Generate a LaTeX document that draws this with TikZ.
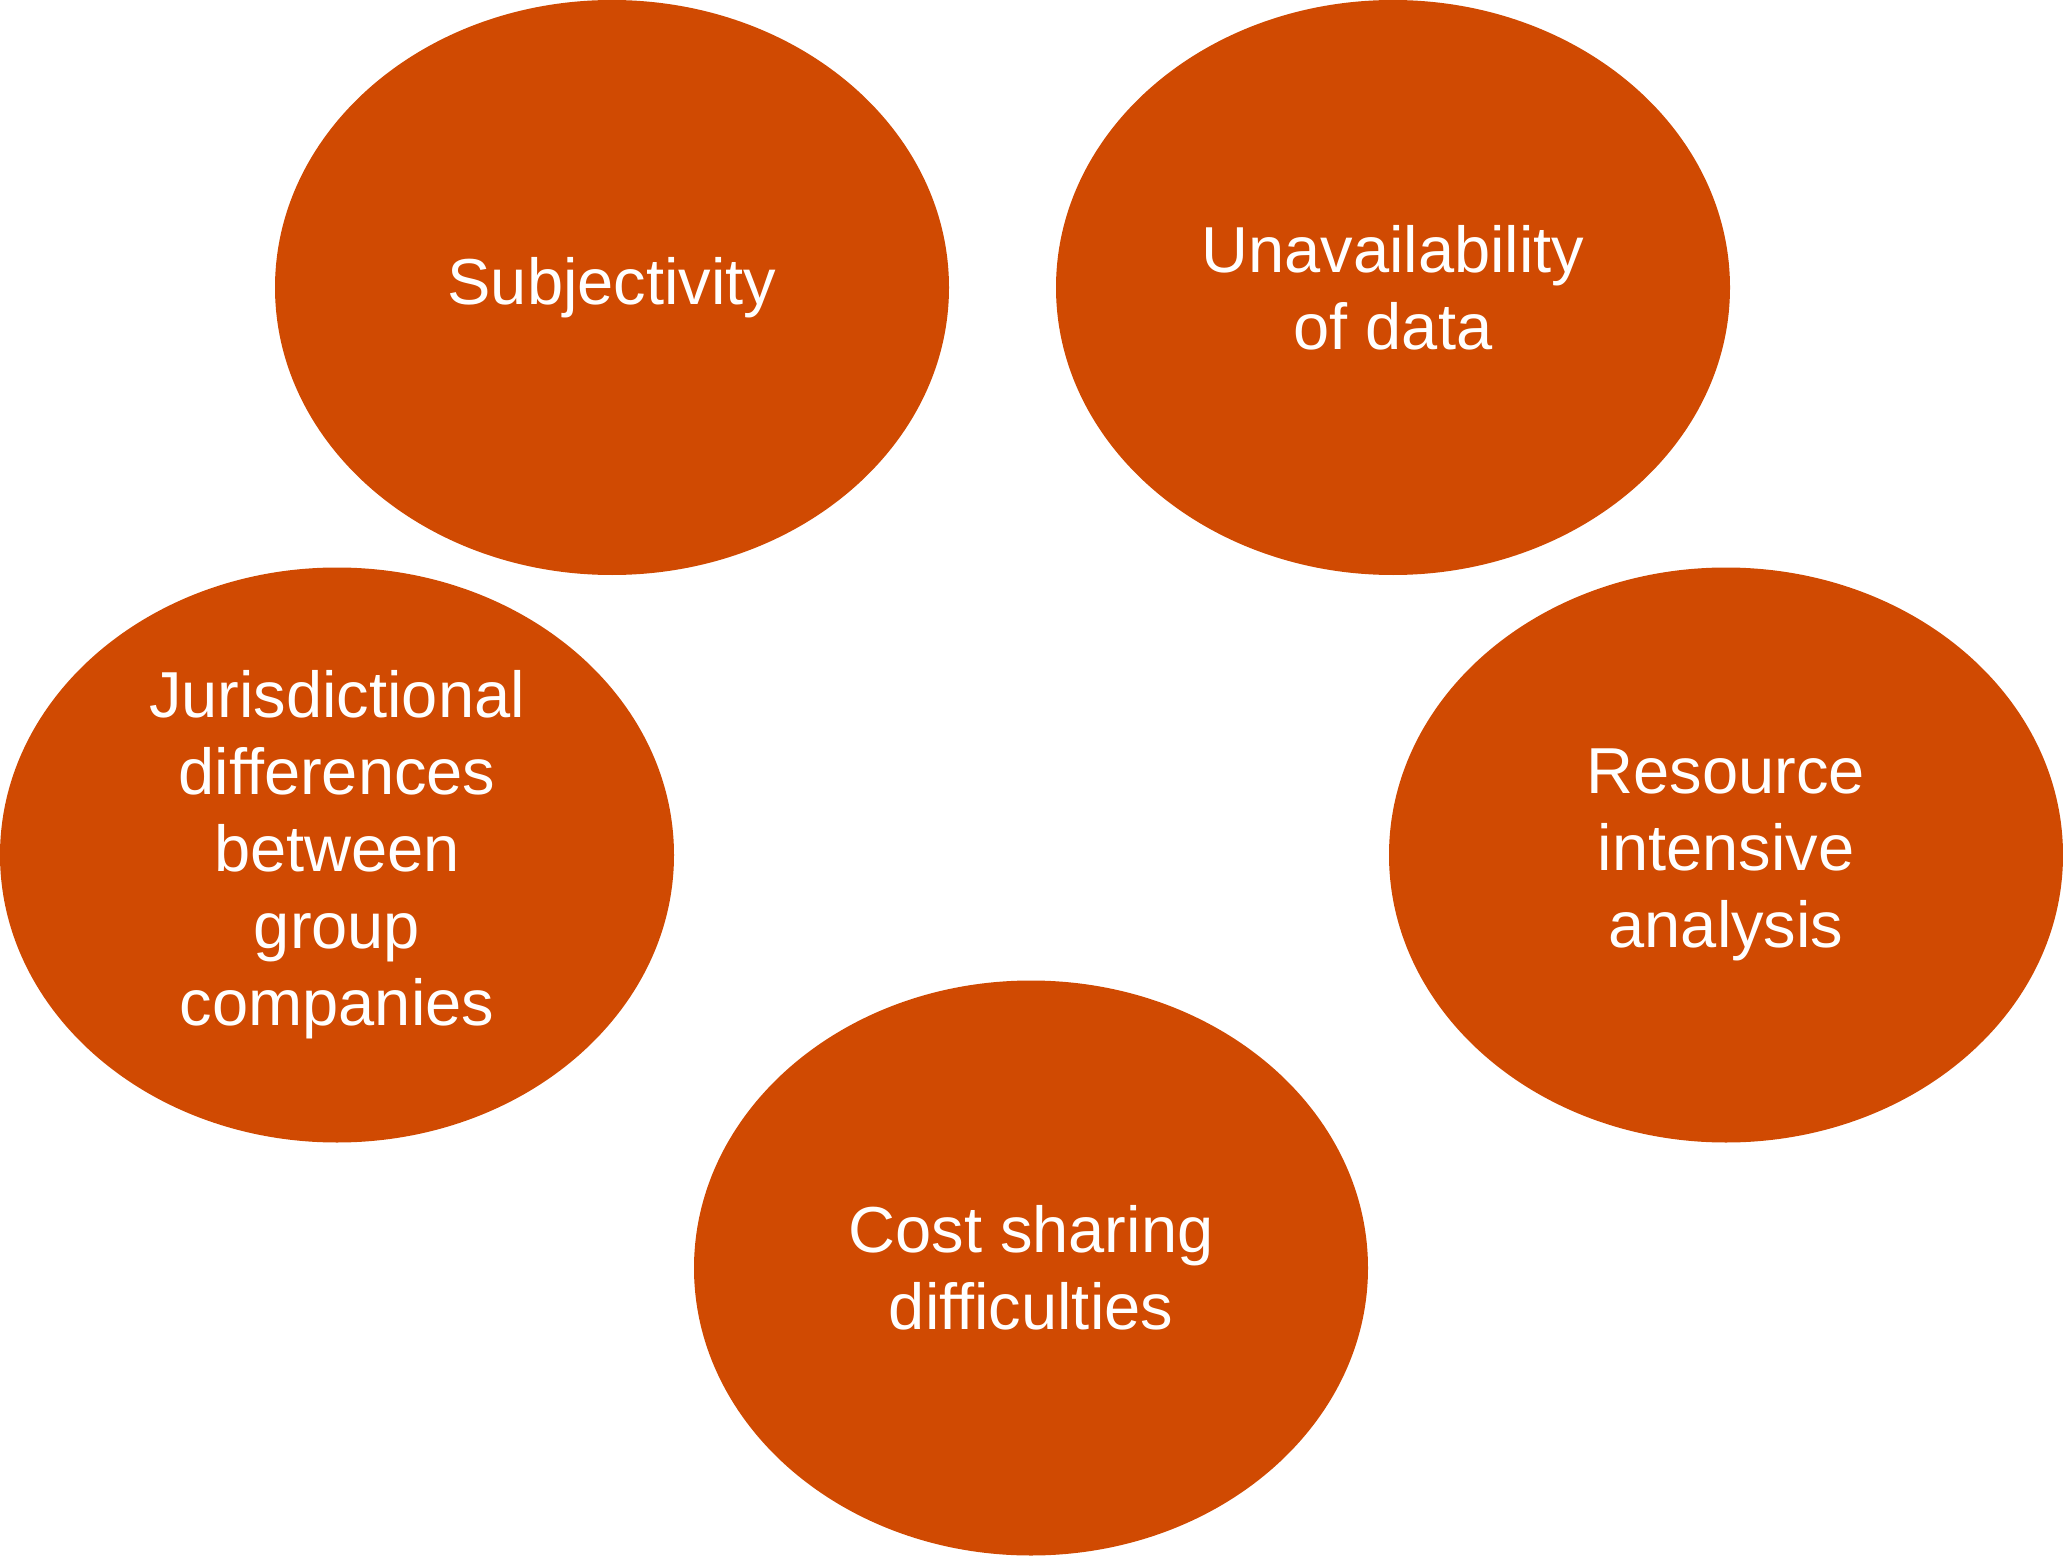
\documentclass[tikz,border=0pt]{standalone}
\usepackage{fontspec}
\setmainfont{Liberation Sans}
\usetikzlibrary{shapes.geometric}
\definecolor{pwcorange}{HTML}{D04A02}
\tikzset{
  blob/.style={ellipse, fill=pwcorange, draw=none, inner sep=0pt,
    minimum width=337pt, minimum height=287.5pt, align=center,
    text=white, font=\fontsize{32.5}{38.5}\selectfont}
}
\begin{document}
\begin{tikzpicture}[x=0.5pt,y=-0.5pt]
\useasboundingbox (0,0) rectangle (2063,1557);
\node[blob] (subj) at (612,287.5) {Subjectivity};
\node[blob] (unav) at (1393,287.5) {Unavailability\\of data};
\node[blob] (juri) at (337,855) {Jurisdictional\\differences\\between\\group\\companies};
\node[blob] (reso) at (1726,855) {Resource\\intensive\\analysis};
\node[blob] (cost) at (1031,1268) {Cost sharing\\difficulties};
\end{tikzpicture}
\end{document}
